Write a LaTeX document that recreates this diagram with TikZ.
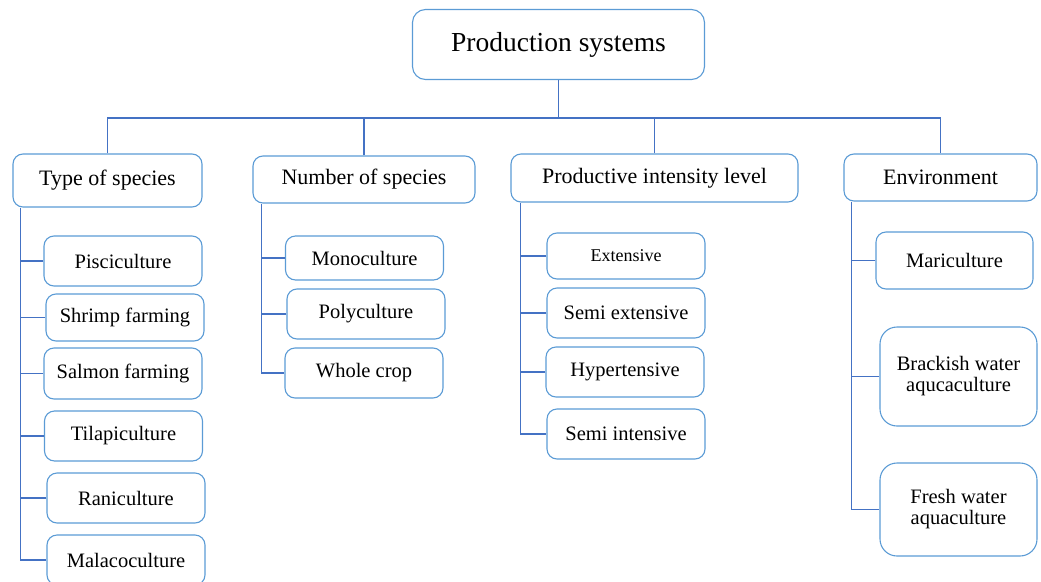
\documentclass[tikz,border=0pt]{standalone}
\usepackage{fontspec}
\setmainfont{Liberation Serif}
\definecolor{boxblue}{HTML}{5B9BD5}
\definecolor{lineblue}{HTML}{4472C4}
\tikzset{
  box/.style={draw=boxblue, line width=1.1pt, rounded corners=10pt, inner sep=2pt, align=center,
    minimum width=158pt, minimum height=50pt, font=\fontsize{20.5}{21}\selectfont},
  head/.style={box, font=\fontsize{22}{24}\selectfont},
  link/.style={draw=lineblue, line width=1.5pt},
}
\begin{document}
\begin{tikzpicture}[x=1pt,y=-1pt]
\useasboundingbox (0,0) rectangle (1041,581);
% root and the four groups
\node[box, font=\fontsize{27.5}{30}\selectfont, minimum width=292pt, minimum height=70pt, rounded corners=13pt] (top) at (558.5,44.5) {Production systems};
\node[head, minimum width=189pt, minimum height=53pt] (type) at (107.5,180.5) {Type of species};
\node[head, minimum width=222pt, minimum height=47pt] (number) at (364,179.5) {Number of species};
\node[head, minimum width=287pt, minimum height=48pt] (intens) at (654.5,178) {Productive intensity level};
\node[head, minimum width=193pt, minimum height=47pt] (env) at (940.5,177.5) {Environment};
% leaves
\foreach \i/\x/\y/\h/\txt in {1/123/261/50/Pisciculture, 2/125/317.5/47/Shrimp farming,
    3/123/373.5/51/Salmon farming, 4/123.5/436/50/Tilapiculture, 5/126/498/50/Raniculture,
    6/126/560/50/Malacoculture}
  \node[box, minimum height=\h] (t\i) at (\x,\y) {\txt};
\foreach \i/\x/\y/\h/\txt in {1/364.5/258/44/Monoculture, 2/366/314/50/Polyculture, 3/364/373/50/Whole crop}
  \node[box, minimum height=\h] (n\i) at (\x,\y) {\txt};
\node[box, minimum height=46, font=\fontsize{18}{20}\selectfont] (p1) at (626,256) {Extensive};
\foreach \i/\x/\y/\txt in {2/626/313/Semi extensive, 3/625/372/Hypertensive, 4/626/434/Semi intensive}
  \node[box] (p\i) at (\x,\y) {\txt};
\node[box, minimum width=157pt, minimum height=57] (e1) at (954.5,260.5) {Mariculture};
\node[box, minimum width=157pt, minimum height=99, rounded corners=17pt] (e2) at (958.5,376.5) {Brackish water\\aqucaculture};
\node[box, minimum width=157pt, minimum height=93, rounded corners=17pt] (e3) at (958.5,509.5) {Fresh water\\aquaculture};
% connectors
\coordinate (bus) at (0,118);
\draw[link] (top.south) -- (top.south |- bus);
\draw[link] (type.north) |- (bus -| env.north) -- (env.north);
\foreach \g in {number,intens} \draw[link] (\g.north) -- (\g.north |- bus);
\coordinate (ttype) at ([xshift=8pt]type.south west);
\coordinate (tnum) at ([xshift=9pt]number.south west);
\coordinate (tint) at ([xshift=10pt]intens.south west);
\coordinate (tenv) at ([xshift=8pt]env.south west);
\draw[link] (ttype) |- (t6.west);
\foreach \i in {1,...,5} \draw[link] (t\i.west) -- (t\i.west -| ttype);
\draw[link] (tnum) |- (n3.west);
\foreach \i in {1,2} \draw[link] (n\i.west) -- (n\i.west -| tnum);
\draw[link] (tint) |- (p4.west);
\foreach \i in {1,2,3} \draw[link] (p\i.west) -- (p\i.west -| tint);
\draw[link] (tenv) |- (e3.west);
\foreach \i in {1,2} \draw[link] (e\i.west) -- (e\i.west -| tenv);
\end{tikzpicture}
\end{document}
